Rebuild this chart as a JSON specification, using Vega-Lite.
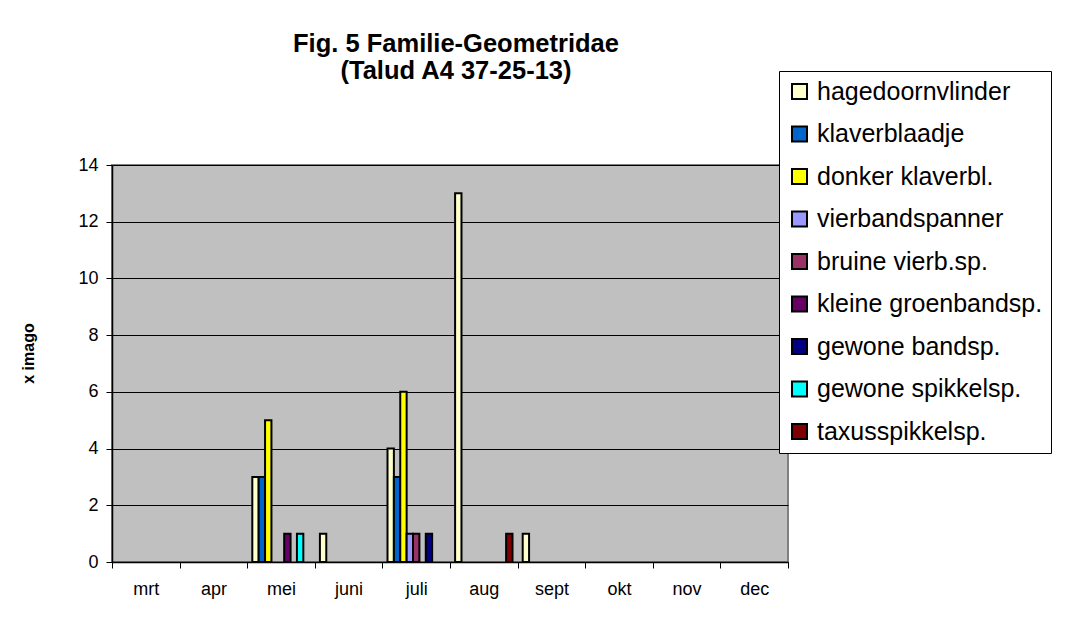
{
  "$schema": "https://vega.github.io/schema/vega-lite/v6.json",
  "width": 676,
  "height": 397,
  "autosize": {"type": "none"},
  "padding": {"left": 112, "top": 165, "right": 278, "bottom": 62},
  "background": "white",
  "title": {
    "text": ["Fig. 5 Familie-Geometridae", "(Talud A4 37-25-13)"],
    "fontSize": 25.5,
    "font": "Liberation Sans",
    "fontWeight": "bold",
    "color": "black",
    "anchor": "middle",
    "frame": "group",
    "dx": 6,
    "offset": -14,
    "lineHeight": 27
  },
  "data": {
    "values": [
      {"maand": "mei", "soort": "hagedoornvlinder", "aantal": 3},
      {"maand": "mei", "soort": "klaverblaadje", "aantal": 3},
      {"maand": "mei", "soort": "donker klaverbl.", "aantal": 5},
      {"maand": "mei", "soort": "kleine groenbandsp.", "aantal": 1},
      {"maand": "mei", "soort": "gewone spikkelsp.", "aantal": 1},
      {"maand": "juni", "soort": "hagedoornvlinder", "aantal": 1},
      {"maand": "juli", "soort": "hagedoornvlinder", "aantal": 4},
      {"maand": "juli", "soort": "klaverblaadje", "aantal": 3},
      {"maand": "juli", "soort": "donker klaverbl.", "aantal": 6},
      {"maand": "juli", "soort": "vierbandspanner", "aantal": 1},
      {"maand": "juli", "soort": "bruine vierb.sp.", "aantal": 1},
      {"maand": "juli", "soort": "gewone bandsp.", "aantal": 1},
      {"maand": "aug", "soort": "hagedoornvlinder", "aantal": 13},
      {"maand": "aug", "soort": "taxusspikkelsp.", "aantal": 1},
      {"maand": "sept", "soort": "hagedoornvlinder", "aantal": 1}
    ]
  },
  "mark": {"type": "bar", "stroke": "black", "strokeWidth": 2},
  "encoding": {
    "x": {
      "field": "maand",
      "type": "nominal",
      "sort": null,
      "scale": {
        "domain": ["mrt", "apr", "mei", "juni", "juli", "aug", "sept", "okt", "nov", "dec"],
        "paddingInner": 0,
        "paddingOuter": 0
      },
      "axis": {
        "title": null,
        "labelAngle": 0,
        "tickBand": "extent",
        "domainColor": "black",
        "domainWidth": 1.5,
        "tickColor": "black",
        "tickSize": 6,
        "labelFontSize": 18,
        "labelColor": "black",
        "labelPadding": 12,
        "grid": false
      }
    },
    "xOffset": {
      "field": "soort",
      "type": "nominal",
      "sort": null,
      "scale": {
        "domain": ["hagedoornvlinder", "klaverblaadje", "donker klaverbl.", "vierbandspanner", "bruine vierb.sp.", "kleine groenbandsp.", "gewone bandsp.", "gewone spikkelsp.", "taxusspikkelsp."],
        "paddingInner": 0,
        "paddingOuter": 0.8
      }
    },
    "y": {
      "field": "aantal",
      "type": "quantitative",
      "scale": {"domain": [0, 14], "nice": false},
      "axis": {
        "values": [0, 2, 4, 6, 8, 10, 12, 14],
        "grid": true,
        "gridColor": "black",
        "gridWidth": 1,
        "domainColor": "black",
        "domainWidth": 1.5,
        "tickColor": "black",
        "tickSize": 6,
        "labelFontSize": 18,
        "labelColor": "black",
        "labelPadding": 8,
        "title": "x imago",
        "titleFontSize": 16,
        "titleFontWeight": "bold",
        "titleColor": "black",
        "titleAngle": -90,
        "titleX": -84,
        "titleY": 188,
        "titleAlign": "center",
        "titleBaseline": "middle"
      }
    },
    "color": {
      "field": "soort",
      "type": "nominal",
      "sort": null,
      "scale": {
        "domain": ["hagedoornvlinder", "klaverblaadje", "donker klaverbl.", "vierbandspanner", "bruine vierb.sp.", "kleine groenbandsp.", "gewone bandsp.", "gewone spikkelsp.", "taxusspikkelsp."],
        "range": ["#FFFFCC", "#0066CC", "#FFFF00", "#9999FF", "#993366", "#660066", "#000080", "#00FFFF", "#800000"]
      },
      "legend": {
        "orient": "none",
        "legendX": 667,
        "legendY": -94,
        "title": null,
        "labelFontSize": 25,
        "labelColor": "black",
        "labelLimit": 400,
        "labelOffset": 5,
        "symbolType": "square",
        "symbolSize": 225,
        "symbolStrokeColor": "black",
        "symbolStrokeWidth": 2,
        "symbolOpacity": 1,
        "rowPadding": 16.5,
        "padding": 8,
        "strokeColor": "black",
        "fillColor": "white"
      }
    }
  },
  "config": {
    "font": "Liberation Sans",
    "view": {"fill": "#C0C0C0", "stroke": "#808080", "strokeWidth": 2}
  }
}
